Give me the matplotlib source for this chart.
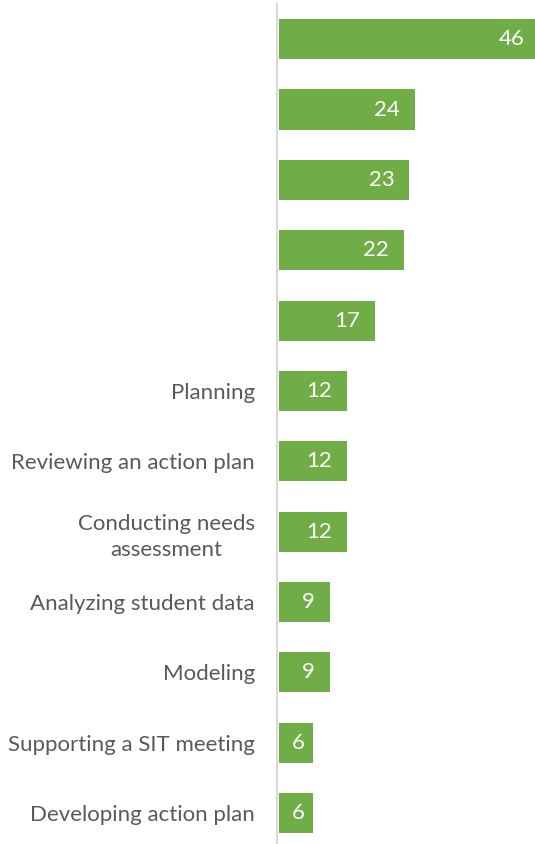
import matplotlib
matplotlib.use("Agg")
import matplotlib.pyplot as plt

categories = ["", "", "", "", "", "Planning", "Reviewing an action plan",
              "Conducting needs\nassessment", "Analyzing student data", "Modeling",
              "Supporting a SIT meeting", "Developing action plan"]
values = [46, 24, 23, 22, 17, 12, 12, 12, 9, 9, 6, 6]

plt.rcParams['font.family'] = ['Lato', 'DejaVu Sans']

px_per_unit = 5.67
fig = plt.figure(figsize=(5.35, 8.44), dpi=100)
ax = fig.add_axes([279/535, 0.0, 1 - 279/535, 840/844])
pos = list(range(len(values)))
ax.barh(pos, values, height=0.57, color='#70AD47')
ax.set_ylim(11.44, -0.5)
ax.set_xlim(0, 256/px_per_unit)
ax.set_yticks(pos)
ax.set_yticklabels(categories)
ax.tick_params(axis='y', length=0, pad=15.8, labelsize=16, labelcolor='#595959')
ax.set_xticks([])
for s in ['top', 'right', 'bottom']:
    ax.spines[s].set_visible(False)
ax.spines['left'].set_color('#D9D9D9')
ax.spines['left'].set_linewidth(1.5)
ax.spines['left'].set_position(('outward', 1.5))
for p, v in zip(pos, values):
    inset = min(15, v * px_per_unit - 26)
    ax.annotate(str(v), (v, p), xytext=(-inset, 0), textcoords='offset pixels',
                ha='right', va='center', color='white', fontsize=16,
                annotation_clip=False)
fig.canvas.draw()
for lbl in ax.get_yticklabels():
    lbl.set_multialignment('center')
    lbl.set_linespacing(1.4)
fig.savefig("out.png", dpi=100)
